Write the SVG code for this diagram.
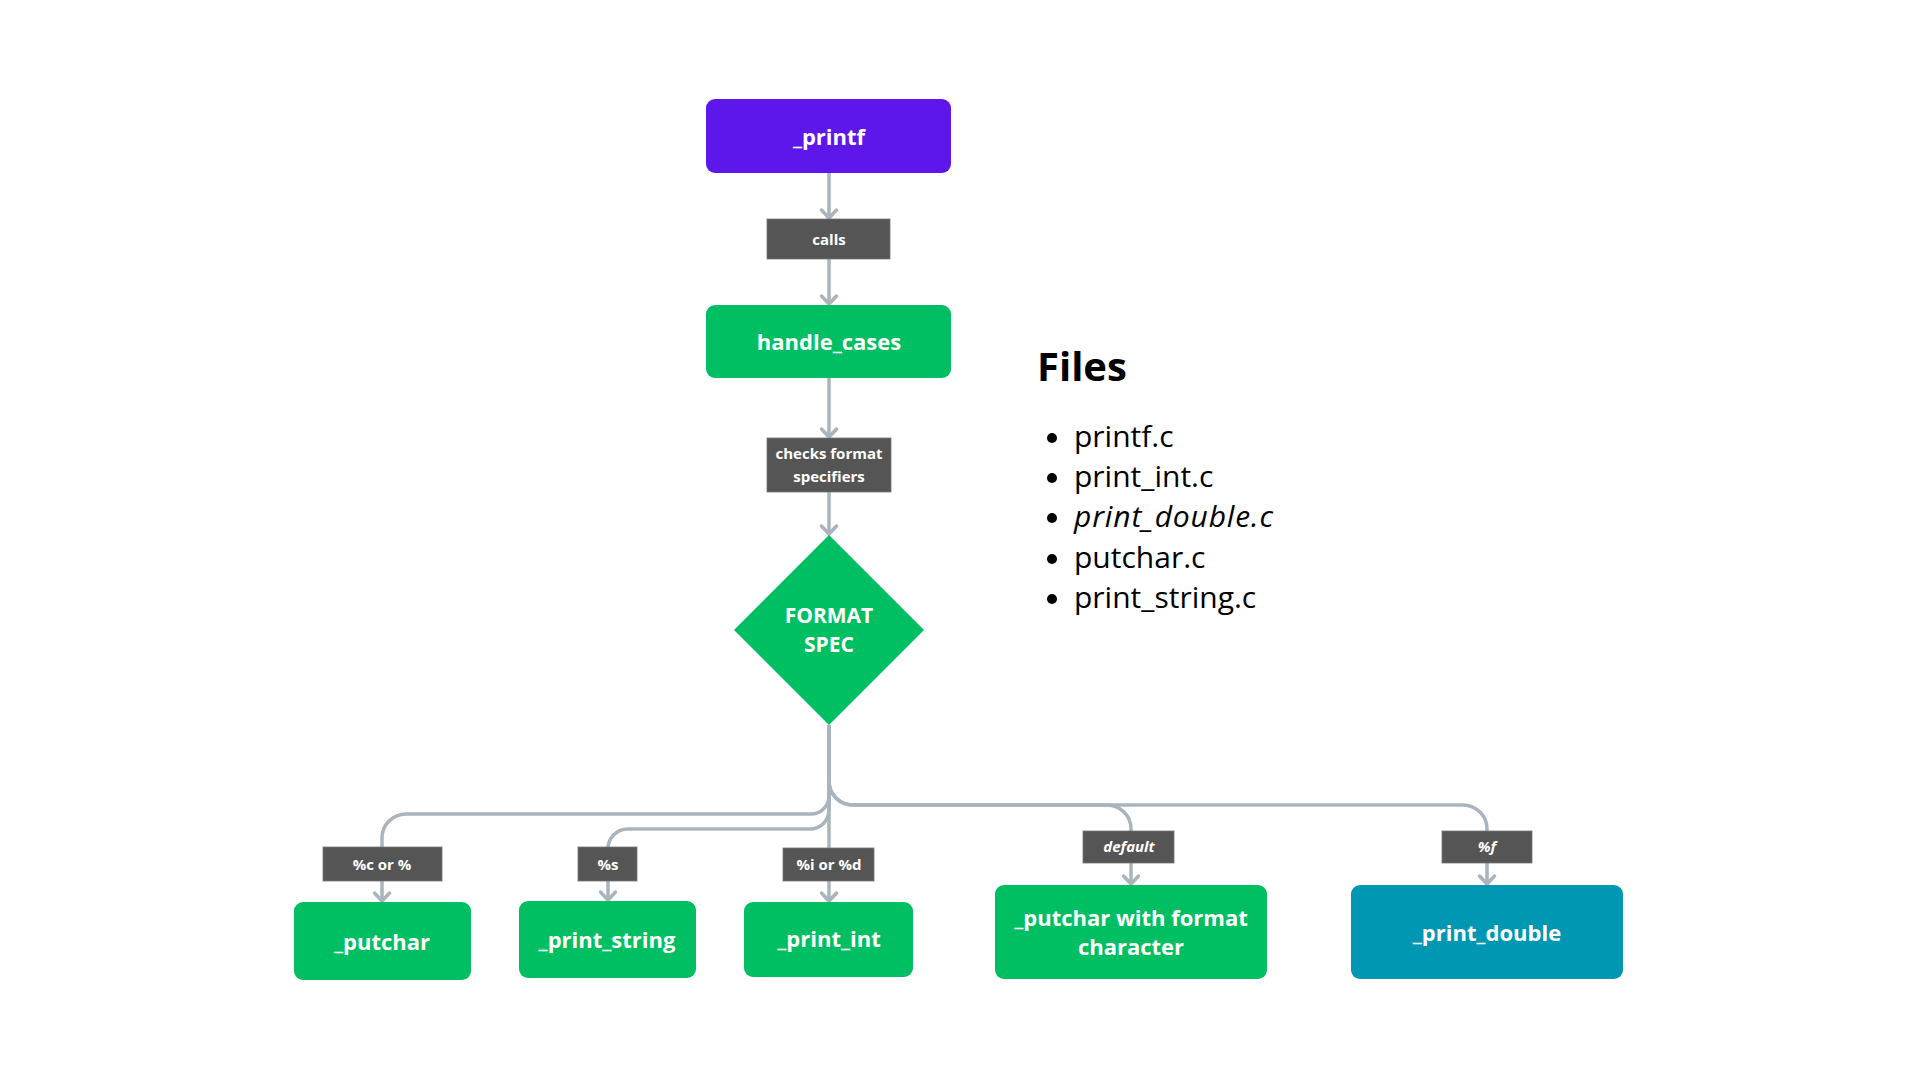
<svg xmlns="http://www.w3.org/2000/svg" width="1920" height="1080" viewBox="0 0 1920 1080">
<defs>
<marker id="chev" markerUnits="userSpaceOnUse" viewBox="-12 -10 14 20" refX="0" refY="0" markerWidth="14" markerHeight="20" orient="auto" overflow="visible">
<path d="M -8 -7.5 L 0 0 L -8 7.5" fill="none" stroke="#aab4bc" stroke-width="3.5" stroke-linecap="round" stroke-linejoin="round"/>
</marker>
<style>
.bg{fill:#ffffff}
.conn{fill:none;stroke:#aab4bc;stroke-width:3.5;marker-end:url(#chev)}
.green{fill:#00bf63}
.purple{fill:#5e17eb}
.teal{fill:#0097b2}
.lbl{fill:#555555;stroke:#777777;stroke-width:0.8}
.nt{font-family:"Open Sans","Noto Sans",sans-serif;font-weight:700;font-size:22px;fill:#ffffff;text-anchor:middle}
.lt{font-family:"Open Sans","Noto Sans",sans-serif;font-weight:700;font-size:15px;fill:#ffffff;text-anchor:middle}
.it{font-style:italic}
.ft{font-family:"Open Sans","Noto Sans",sans-serif;font-size:30px;fill:#000000}
.fh{font-family:"Open Sans","Noto Sans",sans-serif;font-weight:700;font-size:40px;fill:#000000}
</style>
</defs>
<rect class="bg" x="0" y="0" width="1920" height="1080"/>

<g id="connectors">
<path class="conn" d="M 829 173 V 218"/>
<path class="conn" d="M 829 259 V 304"/>
<path class="conn" d="M 829 378 V 437"/>
<path class="conn" d="M 829 492 V 534"/>
<path class="conn" d="M 829 725 V 901"/>
<path class="conn" d="M 829 725 V 796 A 18 18 0 0 1 811 814 H 406 A 24 24 0 0 0 382 838 V 901"/>
<path class="conn" d="M 829 725 V 810 A 19 19 0 0 1 810 829 H 628 A 20 20 0 0 0 608 849 V 900"/>
<path class="conn" d="M 829 725 V 781 A 24 24 0 0 0 853 805 H 1107 A 24 24 0 0 1 1131 829 V 884"/>
<path class="conn" d="M 829 725 V 781 A 24 24 0 0 0 853 805 H 1463 A 24 24 0 0 1 1487 829 V 884"/>
</g>

<g id="label-calls">
<rect class="lbl" x="767" y="219" width="123" height="40"/>
<text class="lt" x="829" y="245">calls</text>
</g>
<g id="label-checks">
<rect class="lbl" x="767" y="438" width="124" height="54"/>
<text class="lt" x="829" y="459">checks format</text>
<text class="lt" x="829" y="482">specifiers</text>
</g>
<g id="label-c">
<rect class="lbl" x="323" y="847" width="119" height="34"/>
<text class="lt" x="382" y="870">%c or %</text>
</g>
<g id="label-s">
<rect class="lbl" x="578" y="847" width="59" height="34"/>
<text class="lt" x="608" y="870">%s</text>
</g>
<g id="label-i">
<rect class="lbl" x="783" y="848" width="91" height="33"/>
<text class="lt" x="829" y="870">%i or %d</text>
</g>
<g id="label-default">
<rect class="lbl" x="1083" y="831" width="91" height="32"/>
<text class="lt it" x="1129" y="852">default</text>
</g>
<g id="label-f">
<rect class="lbl" x="1442" y="831" width="90" height="32"/>
<text class="lt it" x="1487" y="852">%f</text>
</g>

<g id="node-printf">
<rect class="purple" x="706" y="99" width="245" height="74" rx="9"/>
<text class="nt" x="829" y="145">_printf</text>
</g>
<g id="node-handle_cases">
<rect class="green" x="706" y="305" width="245" height="73" rx="9"/>
<text class="nt" x="829" y="350">handle_cases</text>
</g>
<g id="node-format-spec">
<polygon class="green" points="829,535 924,630 829,725 734,630"/>
<text class="nt" x="829" y="623" style="font-size:21px">FORMAT</text>
<text class="nt" x="829" y="652" style="font-size:21px">SPEC</text>
</g>
<g id="node-putchar">
<rect class="green" x="294" y="902" width="177" height="78" rx="9"/>
<text class="nt" x="382" y="950">_putchar</text>
</g>
<g id="node-print_string">
<rect class="green" x="519" y="901" width="177" height="77" rx="9"/>
<text class="nt" x="607" y="948">_print_string</text>
</g>
<g id="node-print_int">
<rect class="green" x="744" y="902" width="169" height="75" rx="9"/>
<text class="nt" x="829" y="947">_print_int</text>
</g>
<g id="node-putchar-format">
<rect class="green" x="995" y="885" width="272" height="94" rx="9"/>
<text class="nt" x="1131" y="926">_putchar with format</text>
<text class="nt" x="1131" y="955">character</text>
</g>
<g id="node-print_double">
<rect class="teal" x="1351" y="885" width="272" height="94" rx="9"/>
<text class="nt" x="1487" y="941">_print_double</text>
</g>

<g id="files">
<text class="fh" x="1037" y="381">Files</text>
<circle cx="1052" cy="438" r="5"/>
<circle cx="1052" cy="478" r="5"/>
<circle cx="1052" cy="518" r="5"/>
<circle cx="1052" cy="559" r="5"/>
<circle cx="1052" cy="599" r="5"/>
<text class="ft" x="1074" y="447">printf.c</text>
<text class="ft" x="1074" y="487">print_int.c</text>
<text class="ft it" x="1074" y="527" textLength="199" lengthAdjust="spacing">print_double.c</text>
<text class="ft" x="1074" y="568">putchar.c</text>
<text class="ft" x="1074" y="608">print_string.c</text>
</g>
</svg>
